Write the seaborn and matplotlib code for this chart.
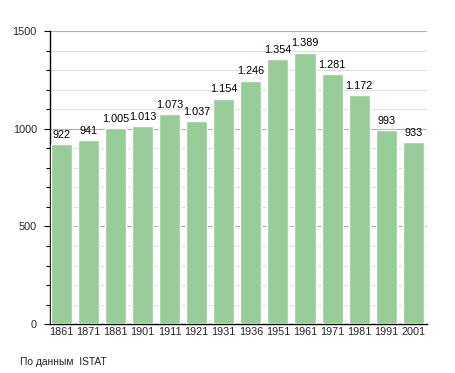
import pandas as pd
import matplotlib.pyplot as plt
import seaborn as sns
from matplotlib.ticker import MultipleLocator

# Dati: popolazione per anno di censimento
anni = ['1861', '1871', '1881', '1901', '1911', '1921', '1931',
        '1936', '1951', '1961', '1971', '1981', '1991', '2001']
abitanti = [922, 941, 1005, 1013, 1073, 1037, 1154,
            1246, 1354, 1389, 1281, 1172, 993, 933]

df = pd.DataFrame({'anno': anni, 'abitanti': abitanti})

sns.set_theme(style="white")
plt.rcParams['font.family'] = ['Liberation Sans', 'DejaVu Sans']

fig = plt.figure(figsize=(4.55, 3.73), dpi=100)
ax = fig.add_axes([0.11, 0.131, 0.828, 0.786])

sns.barplot(data=df, x='anno', y='abitanti', color='#98cc98',
            saturation=1, width=0.78, ax=ax, zorder=3)

# etichette con separatore delle migliaia a punto
for i, v in enumerate(abitanti):
    testo = f"{v:,}".replace(',', '.')
    ax.annotate(testo, (i, v), xytext=(0, 3), textcoords='offset points',
                ha='center', va='bottom', fontsize=7.8, color='black')

ax.set_ylim(0, 1500)
ax.set_xlim(-0.42, len(anni) - 0.5)
ax.yaxis.set_major_locator(MultipleLocator(500))
ax.yaxis.set_minor_locator(MultipleLocator(100))
ax.grid(which='major', axis='y', color='#b0b0b0', linewidth=0.8, zorder=0)
ax.grid(which='minor', axis='y', color='#e0e0e0', linewidth=0.8, zorder=0)
ax.tick_params(axis='y', which='major', left=True, length=4, width=0.8,
               labelsize=7.8, pad=5.5, color='black')
ax.tick_params(axis='y', which='minor', left=True, length=3, width=0.8, color='black')
ax.tick_params(axis='x', labelsize=7.8, pad=2, length=0)

for lato in ['top', 'right']:
    ax.spines[lato].set_visible(False)
for lato in ['left', 'bottom']:
    ax.spines[lato].set_color('black')
    ax.spines[lato].set_linewidth(1)

ax.set_xlabel('')
ax.set_ylabel('')

fig.text(0.044, 0.016, 'По данным  ISTAT', fontsize=7.4, ha='left', va='bottom')

fig.savefig('out.png', dpi=100, facecolor='white')
